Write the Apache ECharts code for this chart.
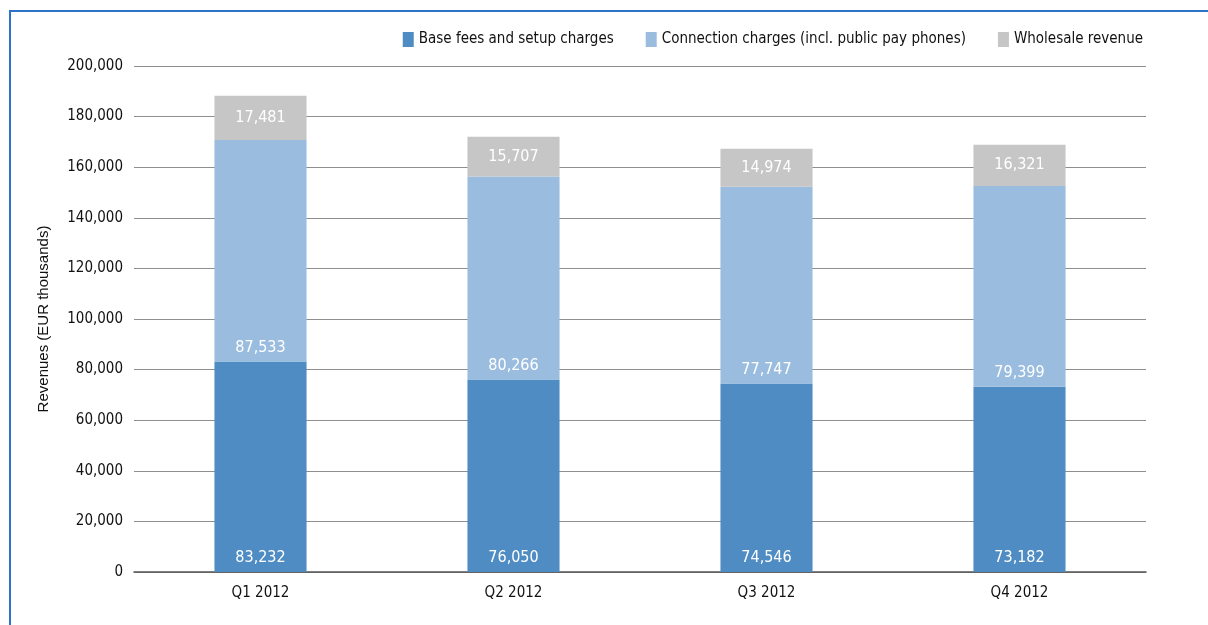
<!DOCTYPE html>
<html>
<head>
<meta charset="utf-8">
<script src="https://cdn.jsdelivr.net/npm/echarts@6/dist/echarts.min.js"></script>
<style>
  html, body { margin: 0; padding: 0; background: #fff; }
  #wrap { position: relative; width: 1208px; height: 625px; overflow: hidden; }
  #chart { position: absolute; left: 0; top: 0; width: 1208px; height: 625px; }
  #frame { position: absolute; left: 9px; top: 10px; width: 1300px; height: 700px;
           border-top: 2px solid #2b74c9; border-left: 2px solid #2b74c9; pointer-events: none; }
</style>
</head>
<body>
<div id="wrap">
  <div id="chart"></div>
  <div id="frame"></div>
</div>
<script>
const categories = ['Q1 2012', 'Q2 2012', 'Q3 2012', 'Q4 2012'];
const baseFees = [83232, 76050, 74546, 73182];
const connectionCharges = [87533, 80266, 77747, 79399];
const wholesaleRevenue = [17481, 15707, 14974, 16321];
const yTicks = [0, 20000, 40000, 60000, 80000, 100000, 120000, 140000, 160000, 180000, 200000];

const condensed = '"Liberation Sans Narrow", "DejaVu Sans Condensed", "Liberation Sans", sans-serif';
const fmt = v => v.toLocaleString('en-US');

const chart = echarts.init(document.getElementById('chart'));

function barLabel(position, offsetY) {
  return {
    show: true,
    position: position,
    distance: 6,
    offset: [0, offsetY || 0],
    color: '#ffffff',
    fontFamily: condensed,
    fontSize: 16,
    formatter: p => fmt(p.value)
  };
}

chart.setOption({
  animation: false,
  textStyle: { fontFamily: condensed },
  legend: {
    right: 60,
    top: 27,
    itemWidth: 11,
    itemHeight: 15,
    itemGap: 32,
    icon: 'rect',
    textStyle: { fontFamily: condensed, fontSize: 15, color: '#111' },
    data: ['Base fees and setup charges', 'Connection charges (incl. public pay phones)', 'Wholesale revenue']
  },
  grid: { left: 134, right: 62, top: 66, bottom: 53 },
  xAxis: {
    type: 'category',
    data: categories,
    axisTick: { show: false },
    axisLine: { lineStyle: { color: '#555', width: 1.5 } },
    axisLabel: { color: '#111', fontFamily: condensed, fontSize: 15, margin: 14 }
  },
  yAxis: {
    type: 'value',
    min: yTicks[0],
    max: yTicks[yTicks.length - 1],
    interval: yTicks[1] - yTicks[0],
    name: 'Revenues (EUR thousands)',
    nameLocation: 'middle',
    nameGap: 83,
    nameTextStyle: { fontFamily: '"Liberation Sans", Arial, sans-serif', fontSize: 15, color: '#111' },
    axisLine: { show: false },
    axisTick: { show: false },
    axisLabel: { color: '#111', fontFamily: condensed, fontSize: 15, margin: 11, formatter: v => fmt(v) },
    splitLine: { lineStyle: { color: '#8f8f8f', width: 1 } }
  },
  series: [
    {
      name: 'Base fees and setup charges',
      type: 'bar',
      stack: 'rev',
      barWidth: '36.4%',
      itemStyle: { color: '#4e8cc3' },
      label: barLabel('insideBottom'),
      data: baseFees
    },
    {
      name: 'Connection charges (incl. public pay phones)',
      type: 'bar',
      stack: 'rev',
      itemStyle: { color: '#9abddf' },
      label: barLabel('insideBottom'),
      data: connectionCharges
    },
    {
      name: 'Wholesale revenue',
      type: 'bar',
      stack: 'rev',
      itemStyle: { color: '#c6c6c6' },
      label: barLabel('inside'),
      data: wholesaleRevenue
    }
  ]
});
</script>
</body>
</html>
